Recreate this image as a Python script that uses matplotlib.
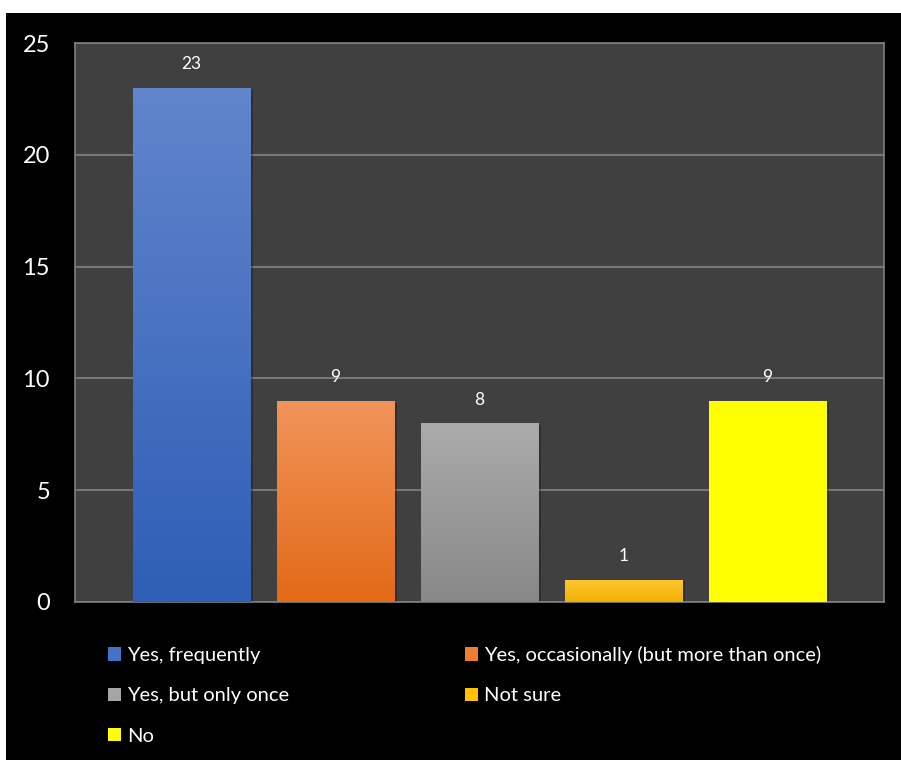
import numpy as np
import matplotlib
matplotlib.use("Agg")
import matplotlib.pyplot as plt
from matplotlib.patches import Rectangle, Patch
from matplotlib.colors import LinearSegmentedColormap

plt.rcParams['font.family'] = ['Lato', 'DejaVu Sans']

categories = ["Yes, frequently", "Yes, occasionally (but more than once)",
              "Yes, but only once", "Not sure", "No"]
values = [23, 9, 8, 1, 9]
top_colors = ["#6285CC", "#F1945A", "#ABABAB", "#FFC733", "#FFFF00"]
bottom_colors = ["#2E5EB6", "#E36A17", "#888888", "#F2B100", "#FFFF00"]
legend_colors = ["#4472C4", "#ED7D31", "#A5A5A5", "#FFC000", "#FFFF00"]
yticks = [0, 5, 10, 15, 20, 25]

fig = plt.figure(figsize=(9.01, 7.6), dpi=100, facecolor="white")
fig.patches.append(Rectangle((6 / 901, 0), 895 / 901, 747 / 760,
                             transform=fig.transFigure, facecolor="black",
                             edgecolor="none", zorder=-10))

ax = fig.add_axes([75 / 901, 158 / 760, 809 / 901, 559 / 760])
ax.set_facecolor("#404040")

x = np.arange(len(values))
width = 0.8125
bars = ax.bar(x, values, width=width, color="none", zorder=3)

grad = np.linspace(0, 1, 256).reshape(-1, 1)
for i, b in enumerate(bars):
    # soft shadow behind each bar
    ax.add_patch(Rectangle((b.get_x() + 0.02, 0), width, values[i] - 0.08,
                           facecolor="black", alpha=0.25, edgecolor="none", zorder=2))
    cmap = LinearSegmentedColormap.from_list("g", [bottom_colors[i], top_colors[i]])
    im = ax.imshow(grad, cmap=cmap, aspect="auto", origin="lower",
                   extent=[b.get_x(), b.get_x() + width, 0, values[i]], zorder=3)
    im.set_clip_path(b)
    ax.annotate(str(values[i]), (x[i], values[i]), xytext=(0, 17),
                textcoords="offset points", ha="center", va="center",
                color="white", fontsize=12.5)

ax.set_xlim(-0.809, 4.809)
ax.set_ylim(0, 25)
ax.set_yticks(yticks)
ax.set_xticks([])
ax.yaxis.grid(True, color="#8A8A8A", linewidth=1.1, zorder=1)
ax.set_axisbelow(True)
ax.tick_params(axis="y", length=0, pad=18, labelsize=17, labelcolor="white")
for s in ax.spines.values():
    s.set_color("#7F7F7F")
    s.set_linewidth(1.2)

order = [0, 2, 4, 1, 3]
handles = [Patch(facecolor=legend_colors[i], edgecolor="none", label=categories[i]) for i in order]
fig.legend(handles=handles, loc="upper left", bbox_to_anchor=(90 / 901, 1 - 628 / 760),
           ncol=2, frameon=False, fontsize=14.5, labelcolor="white",
           handlelength=0.65, handleheight=0.65, handletextpad=0.3,
           columnspacing=8.7, labelspacing=1.15)

fig.savefig("out.png", dpi=100, facecolor="white")
